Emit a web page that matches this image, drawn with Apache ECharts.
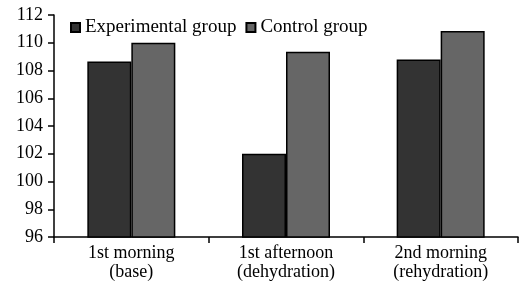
<!DOCTYPE html>
<html>
<head>
<meta charset="utf-8">
<script src="https://cdn.jsdelivr.net/npm/echarts@6/dist/echarts.min.js"></script>
<style>
  html, body { margin: 0; padding: 0; background: #fff; }
  #chart { width: 523px; height: 285px; }
</style>
</head>
<body>
<div id="chart"></div>
<script>
// data
const categories = ['1st morning\n(base)', '1st afternoon\n(dehydration)', '2nd morning\n(rehydration)'];
const experimentalValues = [108.65, 102.0, 108.8];
const controlValues = [110.0, 109.35, 110.85];
const seriesNames = ['Experimental group', 'Control group'];

const chart = echarts.init(document.getElementById('chart'));
const fontFamily = '"Liberation Serif", "Times New Roman", serif';

const option = {
    animation: false,
    textStyle: { fontFamily: fontFamily },
    legend: {
        left: 70,
        top: 18,
        padding: 0,
        itemWidth: 9,
        itemHeight: 9,
        itemGap: 9,
        icon: 'rect',
        textStyle: { fontFamily: fontFamily, fontSize: 19, color: '#000' },
        data: seriesNames
    },
    grid: {
        left: 54,
        right: 5,
        top: 15,
        bottom: 48
    },
    xAxis: {
        type: 'category',
        data: categories,
        axisLine: { lineStyle: { color: '#000', width: 1.5 } },
        axisTick: { show: true, length: 6, lineStyle: { color: '#000', width: 1.5 } },
        axisLabel: {
            color: '#000',
            fontSize: 18,
            lineHeight: 19,
            margin: 7,
            fontFamily: fontFamily
        }
    },
    yAxis: {
        type: 'value',
        min: 96,
        max: 112,
        interval: 2,
        splitLine: { show: false },
        axisLine: { show: true, lineStyle: { color: '#000', width: 1.5 } },
        axisTick: { show: true, length: 6, lineStyle: { color: '#000', width: 1.5 } },
        axisLabel: {
            color: '#000',
            fontSize: 18,
            margin: 11,
            fontFamily: fontFamily
        }
    },
    series: [
        {
            name: seriesNames[0],
            type: 'bar',
            barWidth: 44,
            barGap: '0%',
            data: experimentalValues,
            itemStyle: { color: '#333333', borderColor: '#000', borderWidth: 1.5 }
        },
        {
            name: seriesNames[1],
            type: 'bar',
            barWidth: 44,
            barGap: '0%',
            data: controlValues,
            itemStyle: { color: '#666666', borderColor: '#000', borderWidth: 1.5 }
        }
    ]
};
chart.setOption(option);
</script>
</body>
</html>
